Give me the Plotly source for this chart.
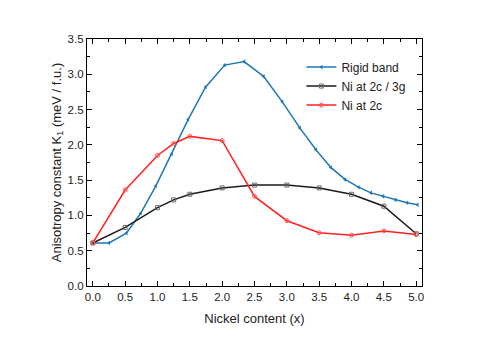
import plotly.graph_objects as go

# Rigid band
rb_x = [0.0, 0.25, 0.52, 0.74, 0.975, 1.22, 1.475, 1.745, 2.04, 2.34, 2.64, 2.93,
        3.2, 3.45, 3.68, 3.9, 4.11, 4.3, 4.49, 4.68, 4.86, 5.02]
rb_y = [0.61, 0.61, 0.75, 1.03, 1.42, 1.87, 2.36, 2.82, 3.13, 3.18, 2.97, 2.61,
        2.24, 1.93, 1.68, 1.51, 1.40, 1.32, 1.27, 1.22, 1.18, 1.15]

# Ni at 2c / 3g
ni23_x = [0.0, 0.5, 1.0, 1.25, 1.5, 2.0, 2.5, 3.0, 3.5, 4.0, 4.5, 5.0]
ni23_y = [0.61, 0.83, 1.11, 1.22, 1.30, 1.39, 1.43, 1.43, 1.39, 1.30, 1.13, 0.74]

# Ni at 2c
ni2_x = [0.0, 0.5, 1.0, 1.25, 1.5, 2.0, 2.5, 3.0, 3.5, 4.0, 4.5, 5.0]
ni2_y = [0.61, 1.36, 1.85, 2.02, 2.12, 2.06, 1.27, 0.925, 0.755, 0.72, 0.78, 0.73]

x_ticks = [0.0, 0.5, 1.0, 1.5, 2.0, 2.5, 3.0, 3.5, 4.0, 4.5, 5.0]
y_ticks = [0.0, 0.5, 1.0, 1.5, 2.0, 2.5, 3.0, 3.5]

FONT = "Liberation Sans, Arial"

fig = go.Figure()
fig.add_trace(go.Scatter(x=rb_x, y=rb_y, name="Rigid band", mode="lines+markers",
                         line=dict(color="#1f77b4", width=1.5),
                         marker=dict(symbol="triangle-left", size=4, color="#1f77b4")))
fig.add_trace(go.Scatter(x=ni23_x, y=ni23_y, name="Ni at 2c / 3g", mode="lines+markers",
                         line=dict(color="#1a1a1a", width=1.5),
                         marker=dict(symbol="square-open", size=4, color="#666666",
                                     line=dict(width=1))))
fig.add_trace(go.Scatter(x=ni2_x, y=ni2_y, name="Ni at 2c", mode="lines+markers",
                         line=dict(color="#ff2020", width=1.5),
                         marker=dict(symbol="circle-open", size=4, color="#ff5050",
                                     line=dict(width=1))))

axis_common = dict(showline=True, linecolor="black", linewidth=1.2, mirror="allticks",
                   ticks="inside", ticklen=5, tickwidth=1, tickcolor="black",
                   showgrid=False, zeroline=False, automargin=False,
                   tickfont=dict(family=FONT, size=11.5, color="#222"),
                   minor=dict(ticks="inside", ticklen=3, tickwidth=1, tickcolor="black",
                              dtick=0.25))

fig.update_xaxes(range=[-0.09, 5.09], tickvals=x_ticks,
                 ticktext=[f"{v:.1f}" for v in x_ticks],
                 title=dict(text="Nickel content (x)", standoff=11,
                            font=dict(family=FONT, size=13, color="#222")),
                 **axis_common)
fig.update_yaxes(range=[0, 3.5], tickvals=y_ticks,
                 ticktext=[f"{v:.1f}" for v in y_ticks],
                 title=dict(text="Anisotropy constant K<sub>1</sub> (meV / f.u.)", standoff=3,
                            font=dict(family=FONT, size=13, color="#222")),
                 **axis_common)

fig.update_layout(width=491, height=344, plot_bgcolor="white", paper_bgcolor="white",
                  margin=dict(l=79, r=77, t=31, b=66, autoexpand=False),
                  legend=dict(x=0.64, y=0.945, xanchor="left", yanchor="top",
                              bgcolor="rgba(0,0,0,0)", tracegroupgap=0,
                              font=dict(family=FONT, size=12, color="#222")),
                  showlegend=True)

fig.write_html("out.html")
